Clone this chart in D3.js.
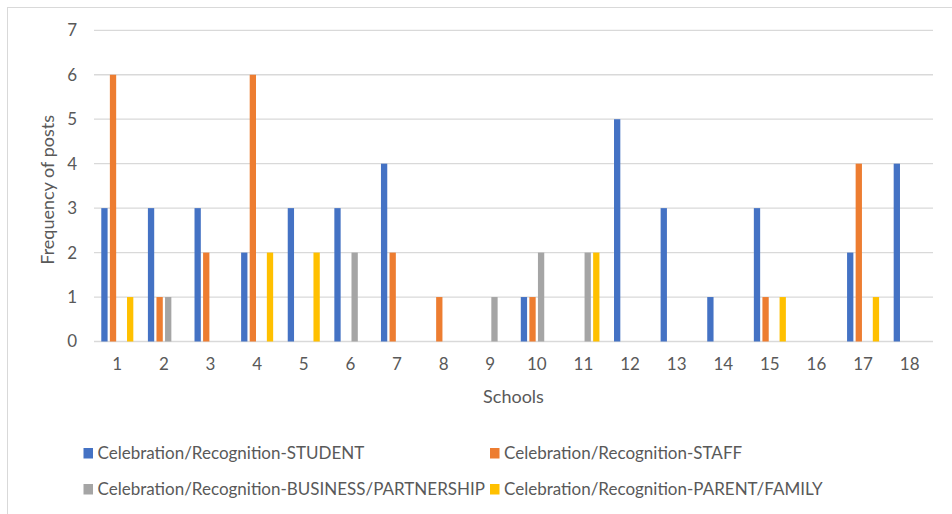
<!DOCTYPE html>
<html>
<head>
<meta charset="utf-8">
<script src="https://cdn.jsdelivr.net/npm/d3@7"></script>
<style>
  html, body { margin: 0; padding: 0; background: #fff; }
  svg { display: block; }
  text { font-family: Lato, "Noto Sans", sans-serif; fill: #595959; }
</style>
</head>
<body>
<svg id="chart" width="952" height="514"></svg>
<script>
// Schools along the x axis
const categories = ["1","2","3","4","5","6","7","8","9","10","11","12","13","14","15","16","17","18"];

// Series names (legend order)
const seriesNames = [
  "Celebration/Recognition-STUDENT",
  "Celebration/Recognition-STAFF",
  "Celebration/Recognition-BUSINESS/PARTNERSHIP",
  "Celebration/Recognition-PARENT/FAMILY"
];

// Frequency of posts per school, one array per series
const student  = [3,3,3,2,3,3,4,0,0,1,0,5,3,1,3,0,2,4];
const staff    = [6,1,2,6,0,0,2,1,0,1,0,0,0,0,1,0,4,0];
const business = [0,1,0,0,0,2,0,0,1,2,2,0,0,0,0,0,0,0];
const parent   = [1,0,0,2,2,0,0,0,0,0,2,0,0,0,1,0,1,0];

const yTicks = [0,1,2,3,4,5,6,7];

const colors = ["#4472C4", "#ED7D31", "#A5A5A5", "#FFC000"];
const seriesValues = [student, staff, business, parent];

const svg = d3.select("#chart");

// chart area frame
svg.append("rect")
  .attr("x", 7.5).attr("y", 7.5)
  .attr("width", 1000).attr("height", 1000)
  .attr("fill", "none").attr("stroke", "#d9d9d9").attr("stroke-width", 1);

const plot = { left: 94, right: 933, top: 30.3, bottom: 341.5 };

const x0 = d3.scaleBand().domain(categories).range([plot.left, plot.right]).padding(0);
const groupW = x0.bandwidth() * 0.736;
const groupOff = (x0.bandwidth() - groupW) / 2;
const x1 = d3.scaleBand().domain(seriesNames).range([0, groupW])
  .paddingInner(0.265).paddingOuter(0.1325);
const y = d3.scaleLinear().domain([0, 7]).range([plot.bottom, plot.top]);

// horizontal gridlines
svg.append("g").selectAll("line").data(yTicks).join("line")
  .attr("x1", plot.left).attr("x2", plot.right)
  .attr("y1", d => y(d)).attr("y2", d => y(d))
  .attr("stroke", "#d9d9d9").attr("stroke-width", 1.3);

// y axis labels
const yAxis = d3.axisLeft(y).tickValues(yTicks).tickFormat(d3.format("d")).tickSize(0).tickPadding(17);
const gy = svg.append("g").attr("transform", `translate(${plot.left},0)`).call(yAxis);
gy.select(".domain").remove();
gy.selectAll("text").attr("font-size", 17).attr("fill", "#595959").style("font-family", "Lato, 'Noto Sans', sans-serif");

// x axis labels
const xAxis = d3.axisBottom(x0).tickSize(0).tickPadding(16);
const gx = svg.append("g").attr("transform", `translate(0,${plot.bottom})`).call(xAxis);
gx.select(".domain").remove();
gx.selectAll("text").attr("font-size", 17).attr("fill", "#595959").style("font-family", "Lato, 'Noto Sans', sans-serif");

// bars
const rows = categories.map((c, i) => ({ cat: c, vals: seriesNames.map((s, k) => ({ s, k, v: seriesValues[k][i] })) }));
svg.append("g").selectAll("g").data(rows).join("g")
  .attr("transform", d => `translate(${x0(d.cat) + groupOff},0)`)
  .selectAll("rect").data(d => d.vals.filter(e => e.v > 0)).join("rect")
  .attr("x", d => x1(d.s))
  .attr("width", x1.bandwidth())
  .attr("y", d => y(d.v))
  .attr("height", d => y(0) - y(d.v))
  .attr("fill", d => colors[d.k]);

// axis titles
svg.append("text")
  .attr("transform", `translate(54,${(plot.top + plot.bottom) / 2 + 4}) rotate(-90)`)
  .attr("text-anchor", "middle")
  .attr("font-size", 18)
  .text("Frequency of posts");

svg.append("text")
  .attr("x", (plot.left + plot.right) / 2).attr("y", 403)
  .attr("text-anchor", "middle")
  .attr("font-size", 18)
  .text("Schools");

// legend: two columns, two rows
const legendPos = [[83.5, 453], [490, 453], [83.5, 489], [490, 489]];
const lg = svg.append("g").selectAll("g").data(seriesNames).join("g")
  .attr("transform", (d, i) => `translate(${legendPos[i][0]},${legendPos[i][1]})`);
lg.append("rect").attr("x", 0).attr("y", -5).attr("width", 9.5).attr("height", 10.5)
  .attr("fill", (d, i) => colors[i]);
lg.append("text").attr("x", 14).attr("y", 0).attr("dy", "0.35em")
  .attr("font-size", 17)
  .text(d => d);
</script>
</body>
</html>
